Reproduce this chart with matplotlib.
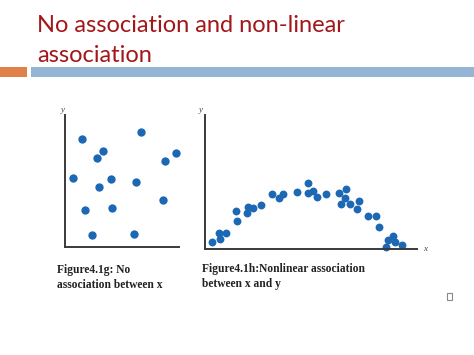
import matplotlib
matplotlib.use('Agg')
import matplotlib.pyplot as plt
from matplotlib.patches import Rectangle

W, H = 474, 355

# no association (left panel)
left_x = [16.7, 75.7, 37.7, 32.3, 110.7, 99.7, 8.3, 45.7, 33.7, 71, 97.7, 20.3, 47.3, 26.7, 69]
left_y = [108, 115.3, 96.3, 88.7, 93.7, 86.3, 68.7, 68.3, 60.3, 64.7, 47.3, 36.7, 39, 12.3, 13]

# nonlinear association (right panel)
right_x = [6.7, 15, 14, 21, 31, 31.7, 41.7, 43.3, 47.7, 55.7, 66.7, 74.3, 78.3, 92.3, 102.7,
           102.7, 107.7, 111.7, 121, 134.3, 141, 140, 135.7, 145, 154.3, 151.7, 163.3, 171,
           174.3, 188.3, 183.3, 190, 181, 197.3]
right_y = [6.7, 10, 16.3, 16.3, 38.3, 28.3, 35.7, 42.3, 40.7, 44.3, 55, 50.7, 55, 57.3, 65.7,
           55.7, 58.3, 52.3, 55, 56.3, 59.7, 50.7, 44.7, 44.7, 48.3, 40, 33.3, 33.3,
           22.3, 13, 9, 7.3, 1.7, 4]

title = "No association and non-linear\nassociation"
caption_left = "Figure4.1g: No\nassociation between x"
caption_right = "Figure4.1h:Nonlinear association\nbetween x and y"

DOT = '#1c68b5'
AXC = '#3a3a3a'


def box(x0, y0, x1, y1):
    return [x0 / W, 1 - y1 / H, (x1 - x0) / W, (y1 - y0) / H]


fig = plt.figure(figsize=(W / 100, H / 100), dpi=100)
fig.patch.set_facecolor('white')

# title and header bars (va='baseline' puts the last line on y)
fig.text(37 / W, 1 - 62 / H, title, color='#a3161a', fontsize=17, family='Lato',
         va='baseline', ha='left', linespacing=1.5)
fig.add_artist(Rectangle((0, 1 - 77 / H), 27 / W, 10 / H, transform=fig.transFigure,
                         color='#df8148', lw=0))
fig.add_artist(Rectangle((31 / W, 1 - 77 / H), 1 - 31 / W, 10 / H, transform=fig.transFigure,
                         color='#94b6d4', lw=0))


def panel(rect, xs, ys, xmax, ymax, show_x, size):
    ax = fig.add_axes(rect)
    ax.scatter(xs, ys, s=size, color=DOT, marker='o', lw=0, clip_on=False)
    ax.set_xlim(0, xmax)
    ax.set_ylim(0, ymax)
    for s in ['top', 'right']:
        ax.spines[s].set_visible(False)
    for s in ['left', 'bottom']:
        ax.spines[s].set_color(AXC)
        ax.spines[s].set_linewidth(1.4)
    ax.set_xticks([])
    ax.set_yticks([])
    ax.set_facecolor('none')
    ax.text(-0.02, 1.01, 'y', transform=ax.transAxes, fontsize=6.5, style='italic',
            family='Liberation Serif', color='#444444', ha='center', va='bottom')
    if show_x:
        ax.text(1.04, 0.0, 'x', transform=ax.transAxes, fontsize=6.5, style='italic',
                family='Liberation Serif', color='#444444', ha='center', va='center')
    return ax


panel(box(65, 115, 179, 247), left_x, left_y, 114, 132, False, 36)
panel(box(205, 115, 417, 249), right_x, right_y, 212, 134, True, 32)

fig.text(57 / W, 1 - 288 / H, caption_left, fontsize=8.3, family='Liberation Serif',
         weight='bold', color='#222222', va='baseline', ha='left', linespacing=1.3)
fig.text(202 / W, 1 - 287 / H, caption_right, fontsize=8.3, family='Liberation Serif',
         weight='bold', color='#222222', va='baseline', ha='left', linespacing=1.3)

fig.add_artist(Rectangle((447 / W, 1 - 300 / H), 5 / W, 7 / H, transform=fig.transFigure,
                         fill=False, ec='#888888', lw=0.8))

fig.savefig('out.png', dpi=100, facecolor='white')
